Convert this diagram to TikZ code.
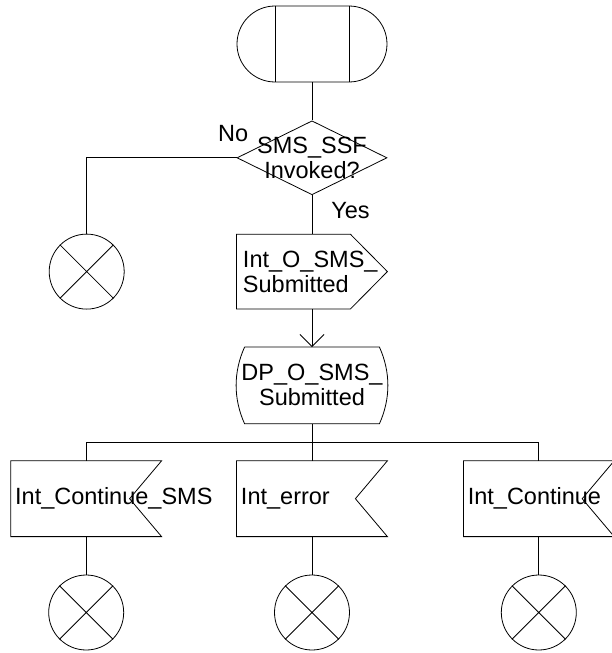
\documentclass[tikz,border=0pt]{standalone}
\usepackage{fontspec}
\setmainfont{Liberation Sans}
\usetikzlibrary{shapes.geometric, shapes.misc, arrows.meta, positioning, calc}
\hfuzz=200pt

\begin{document}
\begin{tikzpicture}[
        node distance=38pt,
        line width=0.8pt,
        font=\fontsize{23.5}{25}\selectfont,
        startbox/.style={rounded rectangle, draw, minimum width=150pt, minimum height=76pt, inner sep=0pt},
        decision/.style={diamond, draw, minimum width=150pt, minimum height=74pt, inner sep=0pt},
        outbox/.style={rectangle, minimum width=150pt, minimum height=74pt, inner sep=0pt, text width=138pt, align=left},
        dpbox/.style={rectangle, minimum width=150pt, minimum height=76pt, inner sep=0pt, align=center},
        inbox/.style={rectangle, minimum width=150pt, minimum height=75pt, inner sep=0pt, text width=142pt, align=left},
        stopc/.style={circle, draw, minimum size=75pt, inner sep=0pt},
        lbl/.style={anchor=base, inner sep=0pt},
        arr/.style={-{Straight Barb[length=12pt, width=24pt]}},
    ]
        \useasboundingbox (-312pt,44pt) rectangle (300pt,-609pt);

        % Start
        \node[startbox] (start) {};

        % Decision
        \node[decision, below=of start] (dec) {};
        \node[align=center] (dectext) at (dec) {SMS\_SSF\\Invoked?};

        % Output signal
        \node[outbox, below=39pt of dec] (out) {Int\_O\_SMS\_\\Submitted};
        \node[stopc, left=112pt of out] (stop0) {};

        % Internal input
        \node[dpbox, below=of out] (dp) {DP\_O\_SMS\_\\Submitted};

        % Signal inputs
        \node[inbox, below=37pt of dp] (in2) {Int\_error};
        \node[inbox, left=75pt of in2] (in1) {Int\_Continue\_SMS};
        \node[inbox, right=76pt of in2] (in3) {Int\_Continue};

        % Stops
        \node[stopc, below=of in1] (stop1) {};
        \node[stopc, below=of in2] (stop2) {};
        \node[stopc, below=of in3] (stop3) {};

        % Symbol outlines
        \draw ($(start.north)+(-37pt,0)$) -- ($(start.south)+(-37pt,0)$)
              ($(start.north)+(37pt,0)$) -- ($(start.south)+(37pt,0)$);
        \draw (out.north west) -- ($(out.north east)+(-37pt,0)$) -- (out.east)
              -- ($(out.south east)+(-37pt,0)$) -- (out.south west) -- cycle;
        \draw ($(dp.north west)+(8pt,0)$) -- ($(dp.north east)+(-8pt,0)$)
              .. controls ($(dp.north east)+(3.3pt,-25pt)$) and ($(dp.south east)+(3.3pt,25pt)$) .. ($(dp.south east)+(-8pt,0)$)
              -- ($(dp.south west)+(8pt,0)$)
              .. controls ($(dp.south west)+(-3.3pt,25pt)$) and ($(dp.north west)+(-3.3pt,-25pt)$) .. ($(dp.north west)+(8pt,0)$);
        \foreach \n in {in1,in2,in3}
            \draw (\n.north west) -- (\n.north east) -- ($(\n.east)+(-32pt,0)$)
                  -- (\n.south east) -- (\n.south west) -- cycle;
        \foreach \n in {stop0,stop1,stop2,stop3}
            \draw (\n.north west) -- (\n.south east) (\n.north east) -- (\n.south west);

        % Labels
        \node[lbl] (no) at ($(dec.west)+(-3.5pt,16pt)$) {No};
        \node[lbl] (yes) at ($(dec.south)+(38.5pt,-23pt)$) {Yes};

        % Connectors
        \draw (start) -- (dec);
        \draw (dec) -- (out);
        \draw (dec.west) -| (stop0);
        \draw[arr] (out) -- (dp);
        \draw (dp) -- (in2);
        \coordinate (bus) at ($(dp.south)!0.5!(in2.north)$);
        \draw (in1) |- (bus) -| (in3);
        \draw (in1) -- (stop1);
        \draw (in2) -- (stop2);
        \draw (in3) -- (stop3);
\end{tikzpicture}
\end{document}
